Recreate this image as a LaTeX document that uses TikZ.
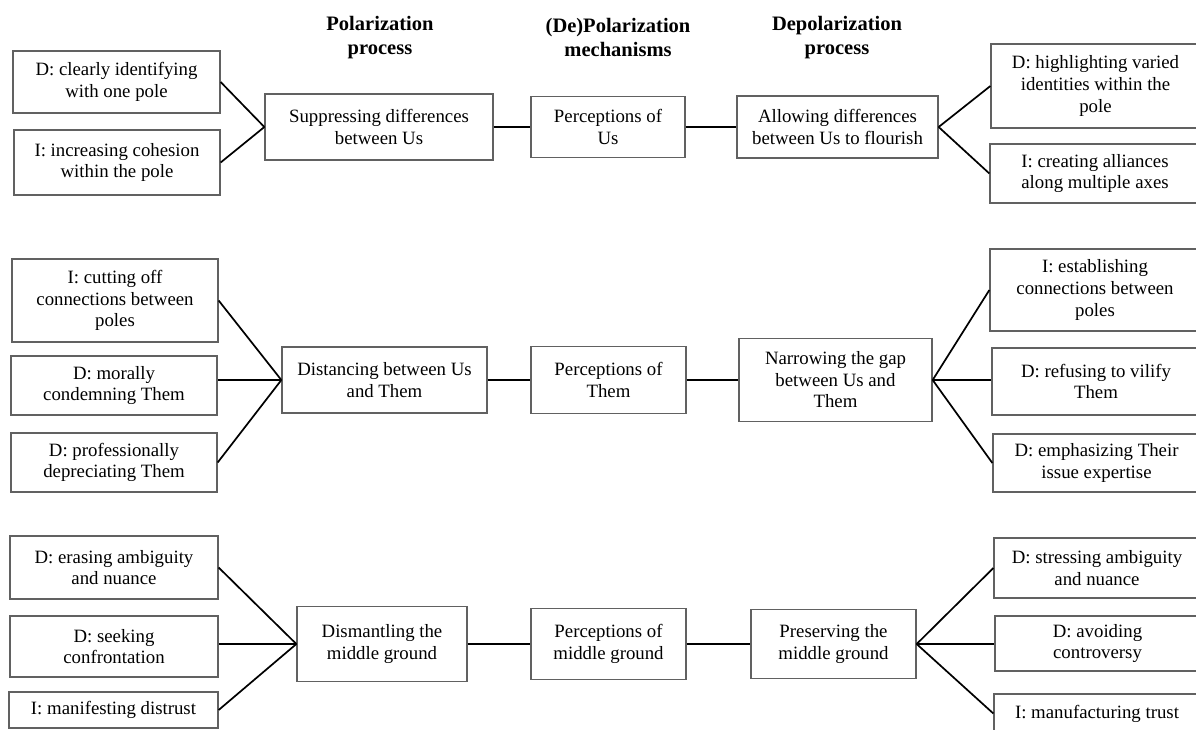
\documentclass[tikz,border=0pt]{standalone}
\usepackage{fontspec}
\setmainfont{Liberation Serif}
\definecolor{boxline}{gray}{0.38}
\newcommand\pxl{0.585pt}
\tikzset{
  box/.style 2 args={draw=boxline, line width=0.75pt, align=center, inner sep=0pt,
    font=\fontsize{11}{12.6}\selectfont,
    minimum width=#1*\pxl, minimum height=#2*\pxl},
  heading/.style={align=center, inner sep=0pt, font=\fontsize{12}{14}\selectfont\bfseries},
  link/.style={draw=black, line width=1pt},
}
\begin{document}
\begin{tikzpicture}[x=0.585pt, y=-0.585pt]

    \useasboundingbox (0,0) rectangle (1196,729);
    \clip (0,0) rectangle (1196,729);

    % ================================================================================================
    % column headings
    % ================================================================================================
    \node [heading] (head-pol)   at (380,37.5) {Polarization\\process};
    \node [heading] (head-mech)  at (618,37.5) {(De)Polarization\\mechanisms};
    \node [heading] (head-depol) at (837,37.5) {Depolarization\\process};

    % ================================================================================================
    % perceptions of Us
    % ================================================================================================
    \node [box={207}{62}] (pol-us-1) at (116.5,82)  {D: clearly identifying\\with one pole};
    \node [box={206}{65}] (pol-us-2) at (117,162.5) {I: increasing cohesion\\within the pole};

    \node [box={228}{66}] (proc-pol-us) at (379,127)   {Suppressing differences\\between Us};
    \node [box={154}{61}] (mech-us)     at (608,127)   {Perceptions of\\Us};
    \node [box={201}{62}] (proc-dep-us) at (837.5,127) {Allowing differences\\between Us to flourish};

    \node [box={209}{84}] (dep-us-1) at (1095.5,86)  {D: highlighting varied\\identities within the\\pole};
    \node [box={210}{59}] (dep-us-2) at (1095,173.5) {I: creating alliances\\along multiple axes};

    % ================================================================================================
    % perceptions of Them
    % ================================================================================================
    \node [box={206}{83}] (pol-them-1) at (115,300.5) {I: cutting off\\connections between\\poles};
    \node [box={206}{59}] (pol-them-2) at (114,385.5) {D: morally\\condemning Them};
    \node [box={206}{59}] (pol-them-3) at (114,462.5) {D: professionally\\depreciating Them};

    \node [box={205}{66}] (proc-pol-them) at (384.5,380) {Distancing between Us\\and Them};
    \node [box={155}{67}] (mech-them)     at (608.5,380) {Perceptions of\\Them};
    \node [box={193}{83}] (proc-dep-them) at (835.5,380) {Narrowing the gap\\between Us and\\Them};

    \node [box={210}{82}] (dep-them-1) at (1095,290)   {I: establishing\\connections between\\poles};
    \node [box={208}{67}] (dep-them-2) at (1096,381.5) {D: refusing to vilify\\Them};
    \node [box={207}{58}] (dep-them-3) at (1096.5,463) {D: emphasizing Their\\issue expertise};

    % ================================================================================================
    % perceptions of middle ground
    % ================================================================================================
    \node [box={208}{63}] (pol-mid-1) at (114,567.5)   {D: erasing ambiguity\\and nuance};
    \node [box={208}{61}] (pol-mid-2) at (114,646.5)   {D: seeking\\confrontation};
    \node [box={209}{36}] (pol-mid-3) at (113.5,710)   {I: manifesting distrust};

    \node [box={170}{75}] (proc-pol-mid) at (382,644)   {Dismantling the\\middle ground};
    \node [box={155}{71}] (mech-mid)     at (608.5,644) {Perceptions of\\middle ground};
    \node [box={165}{69}] (proc-dep-mid) at (833.5,644) {Preserving the\\middle ground};

    \node [box={206}{60}] (dep-mid-1) at (1097,568)   {D: stressing ambiguity\\and nuance};
    \node [box={205}{55}] (dep-mid-2) at (1097.5,643.5) {D: avoiding\\controversy};
    \node [box={206}{39}] (dep-mid-3) at (1097,713.5) {I: manufacturing trust};

    % ================================================================================================
    % connections
    % ================================================================================================
    \foreach \r in {us,them,mid} {
      \draw [link] (proc-pol-\r.east) -- (mech-\r.west);
      \draw [link] (mech-\r.east) -- (proc-dep-\r.west);
    }

    \foreach \i in {1,2}
    \draw [link] (pol-us-\i.east) -- (proc-pol-us.west);
    \foreach \i in {1,2}
    \draw [link] (proc-dep-us.east) -- (dep-us-\i.west);

    \foreach \r in {them,mid} {
      \foreach \i in {1,3} {
        \draw [link] (pol-\r-\i.east) -- (proc-pol-\r.west);
        \draw [link] (proc-dep-\r.east) -- (dep-\r-\i.west);
      }
      \draw [link] (proc-pol-\r.west) -- (proc-pol-\r.west -| pol-\r-2.east);
      \draw [link] (proc-dep-\r.east) -- (proc-dep-\r.east -| dep-\r-2.west);
    }

  \end{tikzpicture}
\end{document}
